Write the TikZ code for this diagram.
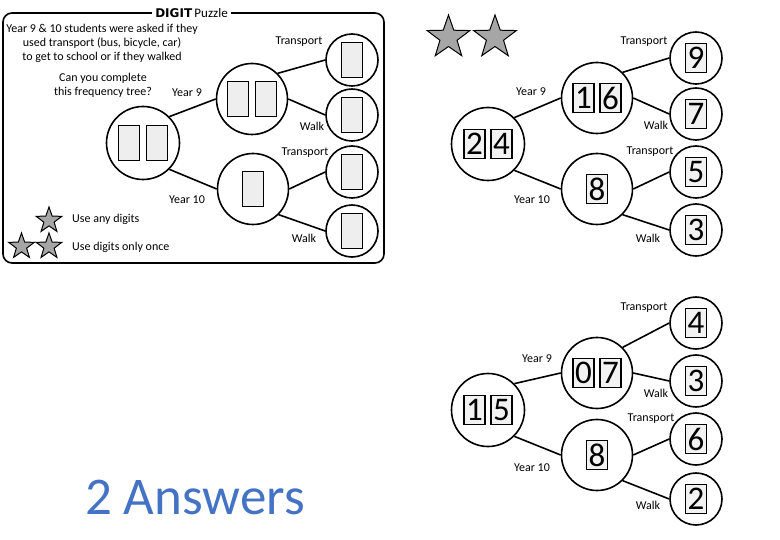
\documentclass[tikz,border=0pt]{standalone}
\usepackage{fontspec}
\setmainfont{Carlito}
\newfontfamily\heavyfont{DejaVu Sans}
\usetikzlibrary{shapes.geometric}

\definecolor{boxgray}{HTML}{EEEEEE}
\definecolor{digitgray}{HTML}{F2F2F2}
\definecolor{stargray}{HTML}{A6A6A6}
\definecolor{answerblue}{HTML}{4472C4}

\tikzset{
	outer/.style={circle,draw,line width=1.6pt,minimum size=71pt,inner sep=0pt},
	leaf/.style={circle,draw,line width=1.6pt,minimum size=52pt,inner sep=0pt},
	blank/.style={draw,line width=1.2pt,fill=boxgray,minimum width=21pt,minimum height=35pt,inner sep=0pt},
	digit/.style={draw,line width=1.2pt,fill=digitgray,minimum width=21pt,minimum height=29pt,inner sep=0pt,font=\fontsize{33}{33}\selectfont},
	branch/.style={line width=1.6pt},
	lbl/.style={inner sep=0pt,font=\fontsize{12}{14}\selectfont},
	rating/.style={star,star points=5,star point ratio=2.5,draw,line width=1pt,fill=stargray,inner sep=0pt}
}

\begin{document}
\begin{tikzpicture}[x=1pt,y=-1pt]
	\useasboundingbox (0,0) rectangle (780,540);

	% puzzle
	\draw[line width=1.6pt,rounded corners=9pt] (3,13) rectangle (384,263);
	\node[fill=white,inner sep=3pt] (title) at (191.5,13) {{\heavyfont\fontsize{12}{12}\selectfont\bfseries DIGIT} {\fontsize{13}{13}\selectfont Puzzle}};
	\node[lbl,align=center] (intro) at (102,43) {Year 9 \& 10 students were asked if they\\used transport (bus, bicycle, car)\\to get to school or if they walked};
	\node[lbl,align=center] (ask) at (103,85) {Can you complete\\this frequency tree?};
	\node[rating,minimum size=27pt] (s1) at (49,220.5) {};
	\node[rating,minimum size=27pt] (s2a) at (21.5,246.5) {};
	\node[rating,minimum size=27pt] (s2b) at (49,246.5) {};
	\node[lbl,anchor=west] (any) at (72,219) {Use any digits};
	\node[lbl,anchor=west] (once) at (72,247) {Use digits only once};

	\begin{scope}
		\node[outer,minimum size=73pt] (pr) at (143,143) {};
		\node[outer] (p9) at (252,99) {};
		\node[outer] (p10) at (253,189) {};
		\node[leaf] (p9t) at (352,60) {};
		\node[leaf] (p9w) at (352,115) {};
		\node[leaf] (p10t) at (352,172) {};
		\node[leaf] (p10w) at (352,231) {};
		\node[blank,xshift=-14pt] (pra) at (pr) {};
		\node[blank,xshift=14pt] (prb) at (pr) {};
		\node[blank,xshift=-14pt] (p9a) at (p9) {};
		\node[blank,xshift=14pt] (p9b) at (p9) {};
		\node[blank] (p10a) at (p10) {};
		\node[blank] (p9ta) at (p9t) {};
		\node[blank] (p9wa) at (p9w) {};
		\node[blank] (p10ta) at (p10t) {};
		\node[blank] (p10wa) at (p10w) {};
		\draw[branch] (pr.45) -- (p9.west);
		\draw[branch] (pr.-45) -- (p10.west);
		\draw[branch] (p9.45) -- (p9t.west);
		\draw[branch] (p9.east) -- (p9w.west);
		\draw[branch] (p10.east) -- (p10t.west);
		\draw[branch] (p10.-45) -- (p10w.west);
		\node[lbl] (py9) at (187,93) {Year 9};
		\node[lbl] (py10) at (187,200) {Year 10};
		\node[lbl] (pt1) at (299,42) {Transport};
		\node[lbl] (pw1) at (312,126) {Walk};
		\node[lbl] (pt2) at (305,153) {Transport};
		\node[lbl] (pw2) at (304,238) {Walk};
	\end{scope}

	% answer 1
	\node[rating,minimum size=45pt] (b1) at (448.5,37.5) {};
	\node[rating,minimum size=45pt] (b2) at (495,37.5) {};
	\begin{scope}
		\node[outer,minimum size=73pt] (ar) at (488,144) {};
		\node[outer] (a9) at (597,98) {};
		\node[outer] (a10) at (597,189) {};
		\node[leaf] (a9t) at (696,58) {};
		\node[leaf] (a9w) at (696,114) {};
		\node[leaf] (a10t) at (696,172) {};
		\node[leaf] (a10w) at (696,230) {};
		\node[digit,xshift=-13.5pt] (ara) at (ar) {2};
		\node[digit,xshift=13.5pt] (arb) at (ar) {4};
		\node[digit,xshift=-13.5pt] (a9a) at (a9) {1};
		\node[digit,xshift=13.5pt] (a9b) at (a9) {6};
		\node[digit] (a10a) at (a10) {8};
		\node[digit] (a9ta) at (a9t) {9};
		\node[digit] (a9wa) at (a9w) {7};
		\node[digit] (a10ta) at (a10t) {5};
		\node[digit] (a10wa) at (a10w) {3};
		\draw[branch] (ar.45) -- (a9.west);
		\draw[branch] (ar.-45) -- (a10.west);
		\draw[branch] (a9.45) -- (a9t.west);
		\draw[branch] (a9.east) -- (a9w.west);
		\draw[branch] (a10.east) -- (a10t.west);
		\draw[branch] (a10.-45) -- (a10w.west);
		\node[lbl] (ay9) at (531,92) {Year 9};
		\node[lbl] (ay10) at (532,200) {Year 10};
		\node[lbl] (at1) at (644,42) {Transport};
		\node[lbl] (aw1) at (656,125) {Walk};
		\node[lbl] (at2) at (650,152) {Transport};
		\node[lbl] (aw2) at (648,238) {Walk};
	\end{scope}

	% answer 2
	\begin{scope}
		\node[outer,minimum size=73pt] (br) at (488,410) {};
		\node[outer] (b9) at (597,373) {};
		\node[outer] (b10) at (597,455) {};
		\node[leaf] (b9t) at (696,323) {};
		\node[leaf] (b9w) at (696,381) {};
		\node[leaf] (b10t) at (696,439) {};
		\node[leaf] (b10w) at (696,499) {};
		\node[digit,xshift=-13.5pt] (bra) at (br) {1};
		\node[digit,xshift=13.5pt] (brb) at (br) {5};
		\node[digit,xshift=-13.5pt] (b9a) at (b9) {0};
		\node[digit,xshift=13.5pt] (b9b) at (b9) {7};
		\node[digit] (b10a) at (b10) {8};
		\node[digit] (b9ta) at (b9t) {4};
		\node[digit] (b9wa) at (b9w) {3};
		\node[digit] (b10ta) at (b10t) {6};
		\node[digit] (b10wa) at (b10w) {2};
		\draw[branch] (br.45) -- (b9.west);
		\draw[branch] (br.-45) -- (b10.west);
		\draw[branch] (b9.45) -- (b9t.west);
		\draw[branch] (b9.east) -- (b9w.west);
		\draw[branch] (b10.east) -- (b10t.west);
		\draw[branch] (b10.-45) -- (b10w.west);
		\node[lbl] (by9) at (537,359) {Year 9};
		\node[lbl] (by10) at (532,468) {Year 10};
		\node[lbl] (bt1) at (644,308) {Transport};
		\node[lbl] (bw1) at (656,393) {Walk};
		\node[lbl] (bt2) at (651,419) {Transport};
		\node[lbl] (bw2) at (648,505) {Walk};
	\end{scope}

	\node[text=answerblue,font=\fontsize{53}{53}\selectfont] (answers) at (195,497) {2 Answers};
\end{tikzpicture}
\end{document}
